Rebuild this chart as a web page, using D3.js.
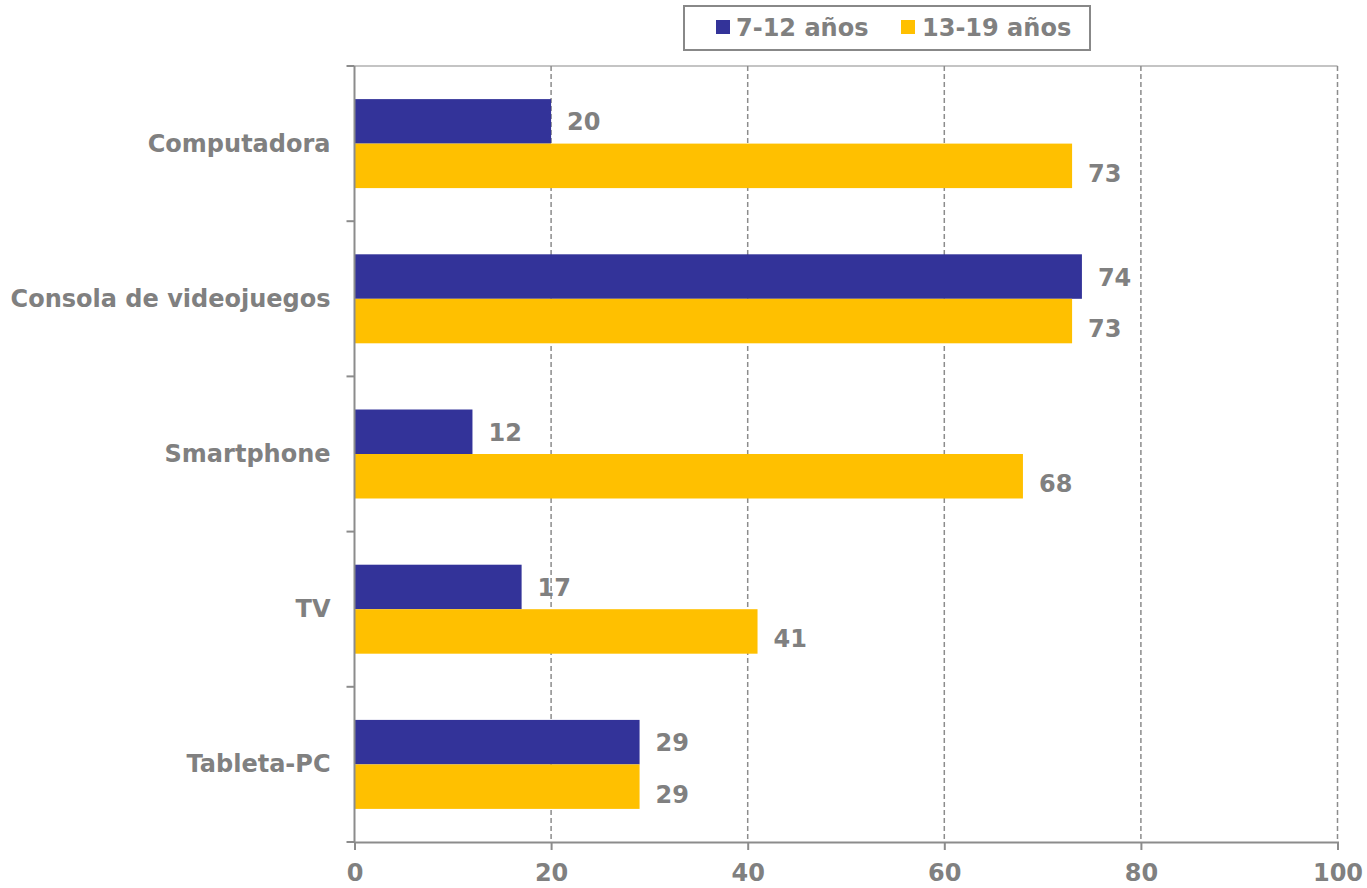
<!DOCTYPE html>
<html>
<head>
<meta charset="utf-8">
<script src="https://cdn.jsdelivr.net/npm/d3@7"></script>
<style>
  html, body { margin: 0; padding: 0; background: #fff; }
  svg { display: block; }
  text { font-family: "DejaVu Sans", Verdana, sans-serif; font-weight: bold; fill: #808080; }
</style>
</head>
<body>
<svg id="chart" width="1367" height="888"></svg>
<script>
const categories = ["Computadora", "Consola de videojuegos", "Smartphone", "TV", "Tableta-PC"];
const seriesNames = ["7-12 años", "13-19 años"];
const values7to12 = [20, 74, 12, 17, 29];
const values13to19 = [73, 73, 68, 41, 29];
const xTicks = [0, 20, 40, 60, 80, 100];
const seriesColors = ["#333399", "#FFC000"];

(function () {
const svg = d3.select("#chart");
const plotLeft = 354.5, plotRight = 1337.5, plotTop = 66, plotBottom = 842;
const fontSize = 24;

const x = d3.scaleLinear().domain([0, 100]).range([plotLeft, plotRight]);
const y0 = d3.scaleBand().domain(categories).range([plotTop, plotBottom]).padding(0);
const y1 = d3.scaleBand().domain(seriesNames).range([0, y0.bandwidth()]).paddingInner(0).paddingOuter(0.744);

const seriesValues = [values7to12, values13to19];

// top border
svg.append("line")
  .attr("x1", plotLeft).attr("x2", plotRight).attr("y1", plotTop).attr("y2", plotTop)
  .attr("stroke", "#b0b0b0").attr("stroke-width", 1.5);

// gridlines
svg.append("g").selectAll("line").data(xTicks.filter(d => d > 0)).join("line")
  .attr("x1", d => x(d)).attr("x2", d => x(d))
  .attr("y1", plotTop).attr("y2", plotBottom)
  .attr("stroke", "#8c8c8c").attr("stroke-width", 1.5)
  .attr("stroke-dasharray", "5,3");

// bars
const rows = [];
categories.forEach((c, i) => {
  seriesNames.forEach((s, j) => rows.push({ cat: c, ser: s, idx: j, v: seriesValues[j][i] }));
});

svg.append("g").selectAll("rect").data(rows).join("rect")
  .attr("x", x(0))
  .attr("y", d => y0(d.cat) + y1(d.ser))
  .attr("width", d => x(d.v) - x(0))
  .attr("height", y1.bandwidth())
  .attr("fill", d => seriesColors[d.idx]);

// value labels
svg.append("g").selectAll("text").data(rows).join("text")
  .attr("x", d => x(d.v) + 16)
  .attr("y", d => y0(d.cat) + y1(d.ser) + y1.bandwidth() / 2 + (d.idx === 1 ? 8 : 1))
  .attr("dominant-baseline", "central")
  .attr("font-size", fontSize)
  .text(d => d.v);

// y axis
const yAxisG = svg.append("g");
yAxisG.append("line")
  .attr("x1", plotLeft).attr("x2", plotLeft).attr("y1", plotTop).attr("y2", plotBottom)
  .attr("stroke", "#8c8c8c").attr("stroke-width", 2);
const boundaries = categories.map(c => y0(c)).concat([plotBottom]);
yAxisG.selectAll("line.tick").data(boundaries).join("line")
  .attr("class", "tick")
  .attr("x1", plotLeft - 8).attr("x2", plotLeft)
  .attr("y1", d => d).attr("y2", d => d)
  .attr("stroke", "#8c8c8c").attr("stroke-width", 2);
yAxisG.selectAll("text").data(categories).join("text")
  .attr("x", plotLeft - 24)
  .attr("y", d => y0(d) + y0.bandwidth() / 2)
  .attr("text-anchor", "end")
  .attr("dominant-baseline", "central")
  .attr("font-size", fontSize)
  .text(d => d);

// x axis
const xAxis = d3.axisBottom(x).tickValues(xTicks).tickSize(8).tickPadding(14).tickFormat(d3.format("d"));
const xg = svg.append("g").attr("transform", `translate(0,${plotBottom})`).call(xAxis);
xg.select(".domain").attr("stroke", "#8c8c8c").attr("stroke-width", 2);
xg.selectAll(".tick line").attr("stroke", "#8c8c8c").attr("stroke-width", 2);
xg.selectAll(".tick text")
  .attr("font-size", fontSize)
  .attr("font-family", "DejaVu Sans, Verdana, sans-serif")
  .attr("font-weight", "bold")
  .attr("fill", "#808080");
xg.attr("font-size", fontSize);

// legend
const lg = svg.append("g");
lg.append("rect")
  .attr("x", 684).attr("y", 6).attr("width", 406).attr("height", 44)
  .attr("fill", "#fff").attr("stroke", "#888").attr("stroke-width", 2);
const legendItems = [{ sx: 716, tx: 736 }, { sx: 901, tx: 922 }];
seriesNames.forEach((s, i) => {
  lg.append("rect")
    .attr("x", legendItems[i].sx).attr("y", 20).attr("width", 14).attr("height", 14)
    .attr("fill", seriesColors[i]);
  lg.append("text")
    .attr("x", legendItems[i].tx).attr("y", 28)
    .attr("dominant-baseline", "central")
    .attr("font-size", fontSize)
    .text(s);
});
})();
</script>
</body>
</html>
